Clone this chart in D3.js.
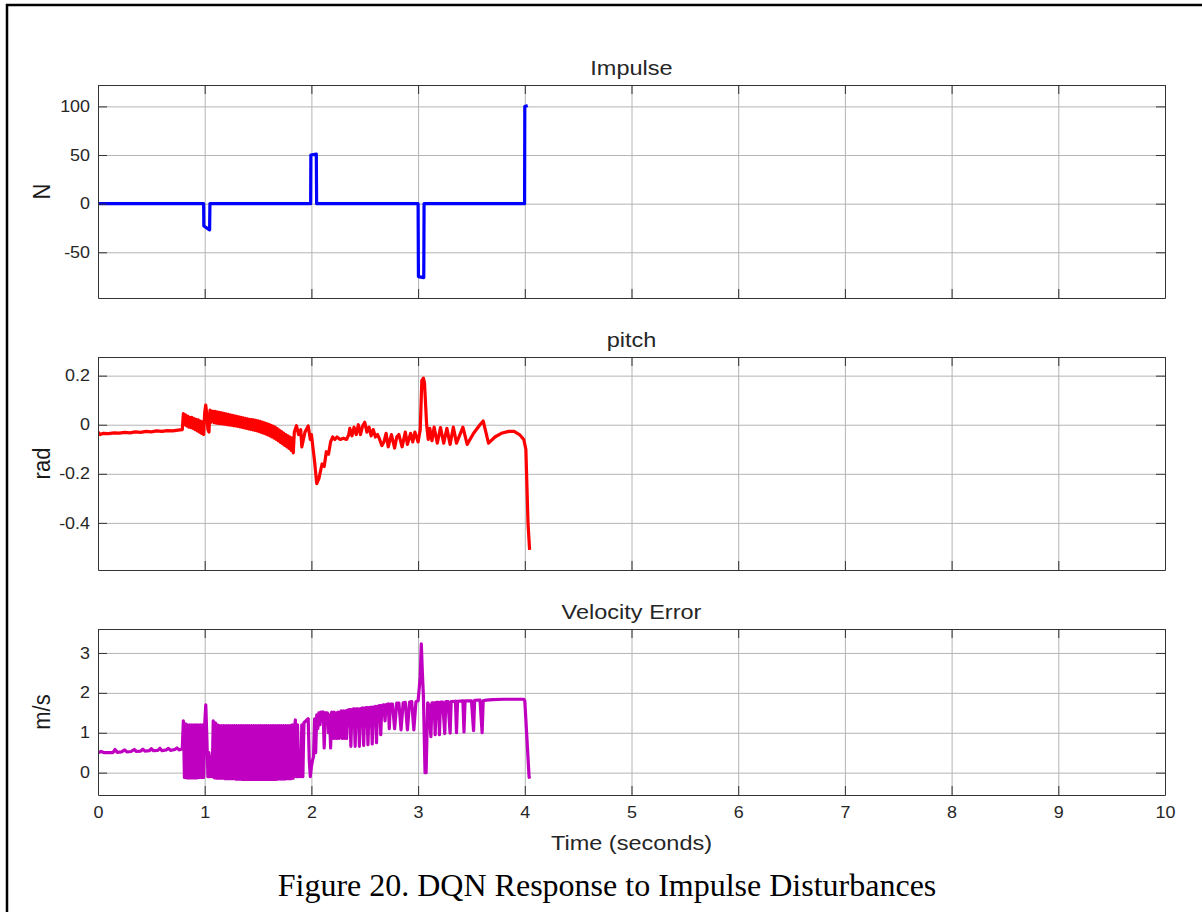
<!DOCTYPE html>
<html>
<head>
<meta charset="utf-8">
<script src="https://d3js.org/d3.v7.min.js"></script>
<style>
  body { margin: 0; background: #fff; }
  svg { display: block; }
  .tick text { font-family: "Liberation Sans", Arial, sans-serif; fill: #262626; }
</style>
</head>
<body>
<svg id="fig" width="1202" height="912"></svg>
<script>
// Chart values
const timeTicks = [0, 1, 2, 3, 4, 5, 6, 7, 8, 9, 10];
const panelTitles = ["Impulse", "pitch", "Velocity Error"];
const yLabels = ["N", "rad", "m/s"];
const impulseTicks = [-50, 0, 50, 100];
const pitchTicks = [-0.4, -0.2, 0, 0.2];
const velocityTicks = [0, 1, 2, 3];
const xLabel = "Time (seconds)";
const caption = "Figure 20. DQN Response to Impulse Disturbances";

// [time, N]
const impulseData = [
  [0, 0], [0.99, 0], [0.992, -23], [1.046, -27], [1.049, 0],
  [1.993, 0], [1.995, 50], [2.046, 51], [2.049, 0],
  [3.0, 0], [3.003, -75], [3.053, -76], [3.056, 0],
  [3.998, 0], [4.0, 100], [4.027, 101]
];

// [time, rad]
const pitchData = [
  [0, -0.03], [0.02, -0.04], [0.05, -0.035], [0.1, -0.036], [0.15, -0.033], [0.2, -0.034],
  [0.25, -0.031], [0.3, -0.033], [0.35, -0.029], [0.4, -0.031], [0.45, -0.027], [0.5, -0.029],
  [0.55, -0.025], [0.6, -0.027], [0.65, -0.024], [0.7, -0.025], [0.75, -0.022], [0.79, -0.02],
  [0.8, 0.045], [0.81, 0.0], [0.82, 0.04], [0.83, -0.005], [0.84, 0.035], [0.85, -0.01],
  [0.86, 0.03], [0.87, -0.012], [0.88, 0.03], [0.89, -0.015], [0.9, 0.025], [0.91, -0.02],
  [0.92, 0.022], [0.93, -0.025], [0.94, 0.02], [0.95, -0.03], [0.96, 0.015], [0.97, -0.035],
  [0.98, 0.012], [0.99, -0.04], [1.0, 0.05], [1.01, 0.08], [1.02, 0.04], [1.03, -0.02],
  [1.04, -0.03], [1.05, 0.06], [1.06, 0.01], [1.07, 0.055],
  [1.08, 0.055], [1.09, 0.008], [1.1, 0.054], [1.11, 0.006], [1.12, 0.052], [1.13, 0.005],
  [1.14, 0.05], [1.15, 0.004], [1.16, 0.048], [1.17, 0.003], [1.18, 0.046], [1.19, 0.002],
  [1.2, 0.044], [1.21, 0.0], [1.22, 0.042], [1.23, -0.001], [1.24, 0.04], [1.25, -0.002],
  [1.26, 0.038], [1.27, -0.004], [1.28, 0.036], [1.29, -0.005], [1.3, 0.034], [1.31, -0.007],
  [1.32, 0.032], [1.33, -0.009], [1.34, 0.03], [1.35, -0.011], [1.36, 0.028], [1.37, -0.013],
  [1.38, 0.026], [1.39, -0.015], [1.4, 0.024], [1.41, -0.017], [1.42, 0.022], [1.43, -0.019],
  [1.44, 0.021], [1.45, -0.021], [1.46, 0.02], [1.47, -0.023], [1.48, 0.018], [1.49, -0.025],
  [1.5, 0.016], [1.51, -0.028], [1.52, 0.014], [1.53, -0.031], [1.54, 0.011], [1.55, -0.034],
  [1.56, 0.008], [1.57, -0.037], [1.58, 0.005], [1.59, -0.041], [1.6, 0.002], [1.61, -0.045],
  [1.62, -0.002], [1.63, -0.05], [1.64, -0.006], [1.65, -0.055], [1.66, -0.01], [1.67, -0.06],
  [1.68, -0.016], [1.69, -0.066], [1.7, -0.022], [1.71, -0.072], [1.72, -0.028], [1.73, -0.078],
  [1.74, -0.034], [1.75, -0.084], [1.76, -0.04], [1.77, -0.09], [1.78, -0.045], [1.79, -0.096],
  [1.8, -0.05], [1.81, -0.105], [1.82, -0.055], [1.83, -0.115], [1.84, -0.03],
  [1.86, -0.004], [1.88, -0.04], [1.9, -0.02], [1.91, -0.09], [1.94, -0.03], [1.97, -0.005],
  [1.99, -0.06], [2.0, -0.04], [2.03, -0.15], [2.05, -0.24], [2.07, -0.22], [2.1, -0.16],
  [2.12, -0.17], [2.14, -0.11], [2.16, -0.12], [2.18, -0.07], [2.2, -0.05], [2.22, -0.06],
  [2.24, -0.05], [2.27, -0.06], [2.3, -0.055], [2.33, -0.06], [2.35, -0.04], [2.36, -0.015],
  [2.38, -0.045], [2.4, -0.01], [2.42, -0.04], [2.44, 0.0], [2.46, -0.04], [2.48, -0.005],
  [2.5, 0.01], [2.52, -0.03], [2.54, -0.01], [2.56, -0.045], [2.58, -0.02], [2.6, -0.05],
  [2.62, -0.04], [2.64, -0.06], [2.66, -0.085], [2.68, -0.07], [2.7, -0.035], [2.72, -0.09],
  [2.75, -0.04], [2.78, -0.095], [2.8, -0.05], [2.82, -0.04], [2.85, -0.09], [2.88, -0.03],
  [2.9, -0.08], [2.93, -0.035], [2.95, -0.07], [2.97, -0.03],
  [3.0, -0.07], [3.02, -0.02], [3.035, 0.18], [3.05, 0.19], [3.06, 0.17], [3.08, 0.0],
  [3.095, -0.06], [3.11, -0.015], [3.13, -0.065], [3.15, -0.01], [3.18, -0.075], [3.21, -0.012],
  [3.24, -0.075], [3.27, -0.015], [3.3, -0.08], [3.33, -0.01], [3.36, -0.075], [3.42, -0.01],
  [3.46, -0.08], [3.52, -0.035], [3.58, 0.0], [3.61, 0.015], [3.66, -0.075], [3.72, -0.05],
  [3.78, -0.035], [3.85, -0.027], [3.9, -0.027], [3.95, -0.04], [3.99, -0.06], [4.01, -0.1],
  [4.03, -0.4], [4.045, -0.51]
];

// [time, m/s]
const velocityData = [
  [0, 0.5], [0.03, 0.53], [0.06, 0.5], [0.1, 0.5], [0.14, 0.5], [0.16, 0.58], [0.18, 0.51],
  [0.22, 0.52], [0.25, 0.57], [0.27, 0.52], [0.31, 0.53], [0.34, 0.58], [0.36, 0.53],
  [0.4, 0.54], [0.42, 0.59], [0.44, 0.54], [0.48, 0.55], [0.5, 0.6], [0.52, 0.55],
  [0.56, 0.56], [0.58, 0.61], [0.6, 0.55], [0.64, 0.57], [0.66, 0.61], [0.68, 0.56],
  [0.72, 0.58], [0.74, 0.62], [0.76, 0.57], [0.79, 0.6],
  [0.8, 1.3], [0.81, -0.12], [0.82, 1.22], [0.83, -0.13], [0.84, 1.2], [0.85, -0.13],
  [0.86, 1.2], [0.87, -0.13], [0.88, 1.2], [0.89, -0.13], [0.9, 1.2], [0.91, -0.13],
  [0.92, 1.2], [0.93, -0.13], [0.94, 1.2], [0.95, -0.12], [0.96, 1.2], [0.97, -0.12],
  [0.98, 1.2], [0.99, -0.12], [1.0, 1.2], [1.01, 1.7], [1.02, 0.9], [1.03, -0.1],
  [1.04, 0.5], [1.05, -0.1], [1.06, 0.4], [1.07, -0.1],
  [1.08, 1.3], [1.09, -0.13], [1.1, 1.25], [1.11, -0.14], [1.12, 1.2], [1.13, -0.14],
  [1.14, 1.18], [1.15, -0.14], [1.16, 1.18], [1.17, -0.14], [1.18, 1.18], [1.19, -0.15],
  [1.2, 1.18], [1.21, -0.15], [1.22, 1.18], [1.23, -0.15], [1.24, 1.18], [1.25, -0.15],
  [1.26, 1.18], [1.27, -0.15], [1.28, 1.18], [1.29, -0.16], [1.3, 1.18], [1.31, -0.16],
  [1.32, 1.18], [1.33, -0.16], [1.34, 1.18], [1.35, -0.17], [1.36, 1.18], [1.37, -0.17],
  [1.38, 1.18], [1.39, -0.17], [1.4, 1.18], [1.41, -0.17], [1.42, 1.18], [1.43, -0.17],
  [1.44, 1.18], [1.45, -0.17], [1.46, 1.18], [1.47, -0.17], [1.48, 1.18], [1.49, -0.17],
  [1.5, 1.18], [1.51, -0.17], [1.52, 1.18], [1.53, -0.17], [1.54, 1.18], [1.55, -0.17],
  [1.56, 1.18], [1.57, -0.17], [1.58, 1.18], [1.59, -0.17], [1.6, 1.18], [1.61, -0.17],
  [1.62, 1.18], [1.63, -0.17], [1.64, 1.18], [1.65, -0.17], [1.66, 1.18], [1.67, -0.17],
  [1.68, 1.18], [1.69, -0.16], [1.7, 1.18], [1.71, -0.16], [1.72, 1.18], [1.73, -0.16],
  [1.74, 1.18], [1.75, -0.16], [1.76, 1.18], [1.77, -0.15], [1.78, 1.18], [1.79, -0.15],
  [1.8, 1.18], [1.81, -0.15], [1.82, 1.2], [1.83, -0.14],
  [1.84, 1.1], [1.85, 1.32], [1.86, -0.1], [1.87, 1.2], [1.88, -0.1], [1.89, 0.3],
  [1.9, -0.1], [1.91, 1.2], [1.92, -0.1], [1.93, 1.25], [1.95, 1.3], [1.97, 1.35],
  [1.98, 0.3], [1.99, -0.1], [2.0, 0.15], [2.01, 0.3], [2.02, 0.4], [2.03, 1.35],
  [2.04, 0.5], [2.05, 1.45], [2.06, 1.1], [2.07, 1.5], [2.08, 1.2], [2.09, 1.52],
  [2.1, 1.45], [2.11, 1.52], [2.12, 0.62], [2.13, 1.5], [2.15, 1.5], [2.16, 1.0],
  [2.17, 1.45], [2.18, 0.62], [2.19, 1.52], [2.2, 0.86], [2.21, 1.52], [2.22, 0.86],
  [2.23, 1.5], [2.24, 0.86], [2.25, 1.52], [2.26, 0.86], [2.27, 1.5], [2.28, 1.55],
  [2.29, 0.86], [2.3, 1.55], [2.31, 0.86], [2.32, 1.55], [2.33, 0.86], [2.34, 1.57],
  [2.36, 1.58], [2.37, 0.66], [2.38, 1.58], [2.4, 1.6], [2.41, 0.66], [2.42, 1.6],
  [2.44, 1.6], [2.45, 0.66], [2.46, 1.6], [2.48, 1.62], [2.49, 0.68], [2.5, 1.62],
  [2.52, 1.63], [2.53, 0.7], [2.54, 1.63], [2.56, 1.64], [2.57, 0.72], [2.58, 1.64],
  [2.6, 1.66], [2.61, 0.75], [2.62, 1.66], [2.64, 1.68], [2.65, 0.95], [2.66, 1.68],
  [2.68, 1.7], [2.69, 1.3], [2.7, 1.7], [2.72, 1.72], [2.73, 1.1], [2.74, 1.72],
  [2.76, 1.72], [2.78, 1.1], [2.8, 1.74], [2.82, 1.74], [2.84, 1.07], [2.86, 1.75],
  [2.88, 1.76], [2.9, 1.07], [2.92, 1.77], [2.94, 1.78], [2.96, 1.07], [2.98, 1.78],
  [3.0, 1.8], [3.02, 2.4], [3.03, 3.23], [3.04, 2.5], [3.05, 1.9], [3.065, 0.0],
  [3.075, 0.0], [3.09, 1.75], [3.1, 1.7], [3.12, 0.9], [3.13, 1.75], [3.15, 1.75],
  [3.16, 0.95], [3.17, 1.76], [3.19, 1.76], [3.2, 0.95], [3.21, 1.77], [3.23, 1.77],
  [3.25, 0.98], [3.26, 1.78], [3.28, 1.78], [3.3, 0.99], [3.31, 1.78], [3.35, 1.79],
  [3.36, 1.0], [3.37, 1.79], [3.42, 1.8], [3.43, 1.02], [3.44, 1.8], [3.5, 1.8],
  [3.52, 1.05], [3.53, 1.81], [3.58, 1.82], [3.6, 1.0], [3.61, 1.8], [3.64, 1.82],
  [3.7, 1.83], [3.8, 1.84], [3.9, 1.84], [3.99, 1.84], [4.0, 1.8], [4.04, -0.1], [4.045, -0.15]
];

// Layout (pixels)
const width = 1202, height = 912;
const plotLeft = 98, plotRight = 1165;
const stretch = 1.12; // the picture is widened a bit, so text is too
const panels = [
  { top: 85, bottom: 298, domain: [-97, 122], ticks: impulseTicks, data: impulseData, color: "#0000ff" },
  { top: 357, bottom: 570, domain: [-0.592, 0.276], ticks: pitchTicks, data: pitchData, color: "#ff0000" },
  { top: 629, bottom: 795, domain: [-0.56, 3.6], ticks: velocityTicks, data: velocityData, color: "#c000c0" }
];

// MATLAB style labels: plain hyphen minus, no padding zeros
const tickFmt = d => String(d);

const svg = d3.select("#fig");
svg.append("rect").attr("width", width).attr("height", height).attr("fill", "#fff");

// page frame
svg.append("rect")
  .attr("x", 7).attr("y", 5)
  .attr("width", width + 10).attr("height", height + 10)
  .attr("fill", "none").attr("stroke", "#000").attr("stroke-width", 2.5);

const xScale = d3.scaleLinear().domain([0, 10]).range([plotLeft, plotRight]);
const tickLen = 9;

function stretchText(g, x, y, txt, size, family, extra) {
  return g.append("text")
    .attr("transform", `translate(${x},${y}) scale(${stretch},1)` + (extra || ""))
    .attr("text-anchor", "middle")
    .style("font-family", family || '"Liberation Sans", Arial, sans-serif')
    .style("font-size", size + "px")
    .attr("fill", "#262626")
    .text(txt);
}

panels.forEach((p, i) => {
  const yScale = d3.scaleLinear().domain(p.domain).range([p.bottom, p.top]);
  const g = svg.append("g");
  const w = plotRight - plotLeft, h = p.bottom - p.top;

  // grid
  g.append("g")
    .attr("transform", `translate(0,${p.bottom})`)
    .call(d3.axisBottom(xScale).tickValues(timeTicks).tickSize(-h).tickFormat(""))
    .call(a => a.select(".domain").remove())
    .call(a => a.selectAll("line").attr("stroke", "#b4b4b4"));
  g.append("g")
    .attr("transform", `translate(${plotLeft},0)`)
    .call(d3.axisLeft(yScale).tickValues(p.ticks).tickSize(-w).tickFormat(""))
    .call(a => a.select(".domain").remove())
    .call(a => a.selectAll("line").attr("stroke", "#b4b4b4"));

  // data line
  const clipId = "clip" + i;
  g.append("clipPath").attr("id", clipId)
    .append("rect").attr("x", plotLeft).attr("y", p.top).attr("width", w).attr("height", h);
  const line = d3.line().x(d => xScale(d[0])).y(d => yScale(d[1]));
  g.append("path")
    .datum(p.data)
    .attr("clip-path", `url(#${clipId})`)
    .attr("d", line)
    .attr("fill", "none")
    .attr("stroke", p.color)
    .attr("stroke-width", 3.2)
    .attr("stroke-linejoin", "round");

  // axes with inward ticks on all four sides
  const axisStyle = a => {
    a.select(".domain").attr("stroke", "#333");
    a.selectAll("line").attr("stroke", "#333");
  };
  const left = g.append("g")
    .attr("transform", `translate(${plotLeft},0)`)
    .call(d3.axisLeft(yScale).tickValues(p.ticks).tickSizeInner(-tickLen).tickSizeOuter(0)
      .tickPadding(8).tickFormat(tickFmt))
    .call(axisStyle);
  left.selectAll(".tick text")
    .style("font-size", "16px")
    .attr("transform", `scale(${stretch},1)`)
    .attr("x", -8 / stretch);
  g.append("g")
    .attr("transform", `translate(${plotRight},0)`)
    .call(d3.axisRight(yScale).tickValues(p.ticks).tickSizeInner(-tickLen).tickSizeOuter(0).tickFormat(""))
    .call(axisStyle);
  g.append("g")
    .attr("transform", `translate(0,${p.top})`)
    .call(d3.axisTop(xScale).tickValues(timeTicks).tickSizeInner(-tickLen).tickSizeOuter(0).tickFormat(""))
    .call(axisStyle);
  const bottom = g.append("g")
    .attr("transform", `translate(0,${p.bottom})`)
    .call(d3.axisBottom(xScale).tickValues(timeTicks).tickSizeInner(-tickLen).tickSizeOuter(0)
      .tickPadding(12).tickFormat(i === panels.length - 1 ? tickFmt : ""))
    .call(axisStyle);
  bottom.selectAll(".tick text")
    .style("font-size", "16px")
    .attr("transform", `scale(${stretch},1)`);

  // title and y label
  stretchText(g, (plotLeft + plotRight) / 2, p.top - 10, panelTitles[i], 21);
  stretchText(g, 50, (p.top + p.bottom) / 2, yLabels[i], 22, null, " rotate(-90)")
    .attr("fill", "#1a1a1a");
});

// x label and caption
stretchText(svg, (plotLeft + plotRight) / 2, 850, xLabel, 21);
svg.append("text")
  .attr("x", 607).attr("y", 896)
  .attr("text-anchor", "middle")
  .style("font-family", '"Liberation Serif", "Times New Roman", serif')
  .style("font-size", "32px")
  .attr("fill", "#000")
  .text(caption);
</script>
</body>
</html>
